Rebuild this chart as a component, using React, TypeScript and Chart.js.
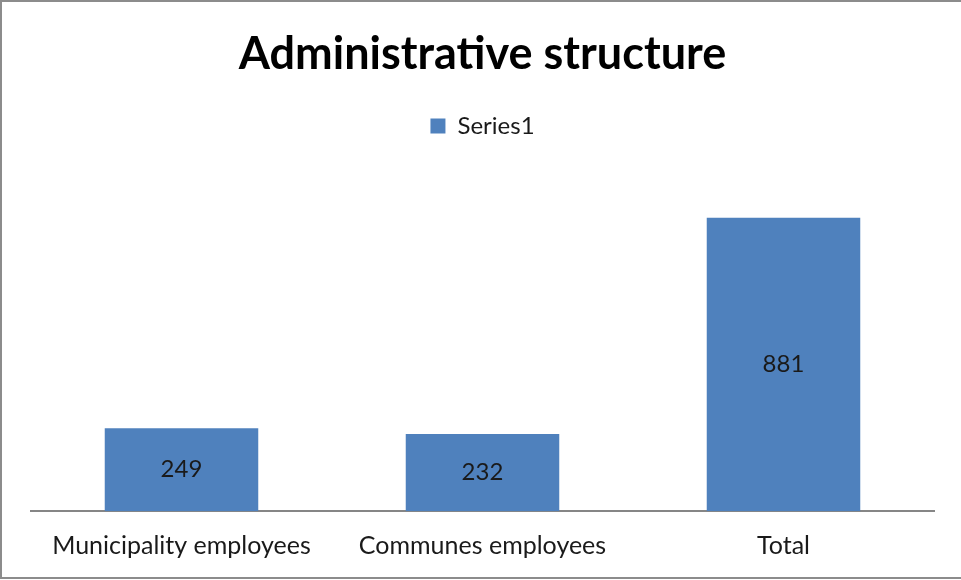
import React, { useEffect, useRef } from "react";
import { Chart, registerables } from "chart.js";

Chart.register(...registerables);

const categories = ["Municipality employees", "Communes employees", "Total"];
const seriesName = "Series1";
const seriesValues = [249, 232, 881];
const titleText = "Administrative structure";

const FONT = "Lato, 'Open Sans', sans-serif";

const chartFrame = {
  id: "chartFrame",
  beforeDraw(chart: any) {
    const { ctx, width, height } = chart;
    ctx.save();
    ctx.fillStyle = "#ffffff";
    ctx.fillRect(0, 0, width, height);
    ctx.strokeStyle = "#8c8c8c";
    ctx.lineWidth = 2;
    ctx.beginPath();
    ctx.moveTo(width + 2, 1);
    ctx.lineTo(1, 1);
    ctx.lineTo(1, height - 2);
    ctx.lineTo(width + 2, height - 2);
    ctx.stroke();
    ctx.restore();
  },
};

const valueLabels = {
  id: "valueLabels",
  afterDatasetsDraw(chart: any) {
    const { ctx } = chart;
    const meta = chart.getDatasetMeta(0);
    ctx.save();
    ctx.fillStyle = "#1a1a1a";
    ctx.font = `24px ${FONT}`;
    ctx.textAlign = "center";
    ctx.textBaseline = "middle";
    meta.data.forEach((bar: any, i: number) => {
      const y = (bar.y + bar.base) / 2;
      ctx.fillText(String(chart.data.datasets[0].data[i]), bar.x, y);
    });
    ctx.restore();
  },
};

export default function App() {
  const ref = useRef<HTMLCanvasElement | null>(null);
  useEffect(() => {
    const chart = new Chart(ref.current!, {
      type: "bar",
      data: {
        labels: categories,
        datasets: [
          {
            label: seriesName,
            data: seriesValues,
            backgroundColor: "#4f81bd",
            borderWidth: 0,
            barPercentage: 1,
            categoryPercentage: 0.51,
          },
        ],
      },
      options: {
        animation: false,
        responsive: false,
        layout: { padding: { left: 31, right: 27, top: 0, bottom: 0 } },
        plugins: {
          title: {
            display: true,
            text: titleText,
            color: "#000000",
            font: { family: FONT, size: 45, weight: "bold", lineHeight: 1.2 },
            padding: { top: 27, bottom: 3 },
          },
          subtitle: {
            display: true,
            text: " ",
            color: "rgba(0,0,0,0)",
            font: { size: 1, lineHeight: 1 },
            padding: { top: 0, bottom: 29 },
            weight: 500,
          } as any,
          legend: {
            display: true,
            labels: {
              color: "#1a1a1a",
              font: { family: FONT, size: 24 },
              boxWidth: 15,
              boxHeight: 15,
              padding: 30,
            },
          },
          tooltip: { enabled: false },
        },
        scales: {
          x: {
            grid: { display: false, drawTicks: false },
            border: { display: true, color: "#868686", width: 2 },
            ticks: {
              color: "#1a1a1a",
              font: { family: FONT, size: 25, lineHeight: 1.15 },
              padding: 20,
            },
          },
          y: {
            display: false,
            min: 0,
            max: 1000,
          },
        },
      },
      plugins: [chartFrame, valueLabels],
    });
    return () => chart.destroy();
  }, []);
  return (
    <div style={{ position: "absolute", left: 0, top: 0, width: 961, height: 580 }}>
      <canvas ref={ref} width={961} height={580} style={{ display: "block" }} />
    </div>
  );
}
